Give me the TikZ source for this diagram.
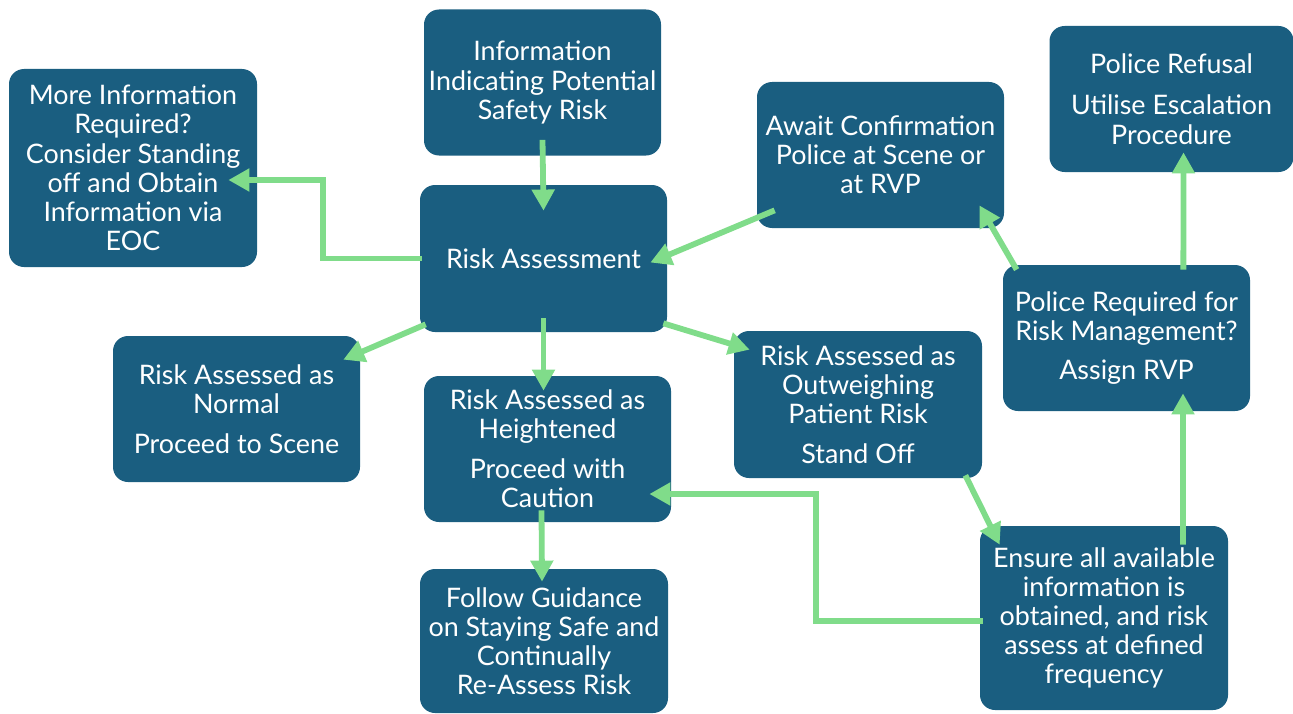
\documentclass[tikz,border=0pt]{standalone}
\usepackage{fontspec}
\setmainfont{Lato}
\usetikzlibrary{arrows.meta,calc}
\definecolor{boxblue}{HTML}{1A5E80}
\definecolor{flowgreen}{HTML}{80DC8A}
\tikzset{
  blk/.style = {draw = none, fill = boxblue, text = white, rounded corners = 0.3cm,
                align = center, inner sep = 2pt,
                minimum width = 247*0.02cm, minimum height = 146*0.02cm,
                font = \fontsize{15.3}{16.6}\selectfont},
  flow/.style = {draw = flowgreen, line width = 3.3pt,
                 -{Triangle[length = 12pt, width = 12.5pt]}}
}
\begin{document}
\begin{tikzpicture}[x = 0.02cm, y = -0.02cm]
				\useasboundingbox (0,0) rectangle (1293,713);
				% boxes
				\node[blk, minimum width = 237*0.02cm] (info) at (542.5,82.5) {Information\\Indicating Potential\\Safety Risk};
				\node[blk, minimum width = 248*0.02cm, minimum height = 198*0.02cm] (more) at (133,168) {More Information\\Required?\\Consider Standing\\off and Obtain\\Information via\\EOC};
				\node[blk, minimum height = 147*0.02cm] (risk) at (543.5,258.5) {Risk Assessment};
				\node[blk] (await) at (880.5,155) {Await Confirmation\\Police at Scene or\\at RVP};
				\node[blk, minimum width = 244*0.02cm] (refusal) at (1171.5,99) {Police Refusal\\[7pt]Utilise Escalation\\Procedure};
				\node[blk] (police) at (1126.5,338) {Police Required for\\Risk Management?\\[6pt]Assign RVP};
				\node[blk] (normal) at (236.5,409) {Risk Assessed as\\Normal\\[6pt]Proceed to Scene};
				\node[blk] (height) at (547.5,449) {Risk Assessed as\\Heightened\\[6pt]Proceed with\\Caution};
				\node[blk, minimum width = 248*0.02cm, minimum height = 147*0.02cm] (outweigh) at (858,404.5) {Risk Assessed as\\Outweighing\\Patient Risk\\[6pt]Stand Off};
				\node[blk, minimum width = 248*0.02cm, minimum height = 184*0.02cm] (ensure) at (1104,618) {Ensure all available\\information is\\obtained, and risk\\assess at defined\\frequency};
				\node[blk, minimum width = 248*0.02cm, minimum height = 144*0.02cm] (follow) at (544,641) {Follow Guidance\\on Staying Safe and\\Continually\\Re-Assess Risk};
				% connectors
				\draw[flow] ($(info.south)+(0,-16)$) -- ($(risk.north)+(0,26)$);
				\draw[flow] ($(risk.west)+(2,0)$) -| ($(more.east)+(66,12)$) -- ($(more.east)+(-29,12)$);
				\draw[flow] ($(await.south west)+(18,-18)$) -- ($(risk.east)+(-17,4)$);
				\draw[flow] ($(police.north west)+(14,5)$) -- ($(await.south east)+(-25,-23)$);
				\draw[flow] ($(police.north east)+(-67,5)$) -- ($(refusal.south)+(12,-20)$);
				\draw[flow] ($(ensure.north)+(79,19)$) -- ($(police.south)+(56.5,-18)$);
				\draw[flow] ($(risk.south west)+(6,-8)$) -- ($(normal.north east)+(-17,24)$);
				\draw[flow] ($(risk.south)+(0,-14)$) -- ($(height.north)+(-4,15)$);
				\draw[flow] ($(risk.south east)+(-4,-9)$) -- ($(outweigh.north west)+(16,19)$);
				\draw[flow] ($(outweigh.south east)+(-17,-3)$) -- ($(ensure.north west)+(20,19)$);
				\draw[flow] ($(ensure.west)+(3,3)$) -| ($(height.east)+(145,45)$) -- ($(height.east)+(-22,45)$);
				\draw[flow] ($(height.south)+(-6,-12)$) -- ($(follow.north)+(-2,13)$);
\end{tikzpicture}
\end{document}
